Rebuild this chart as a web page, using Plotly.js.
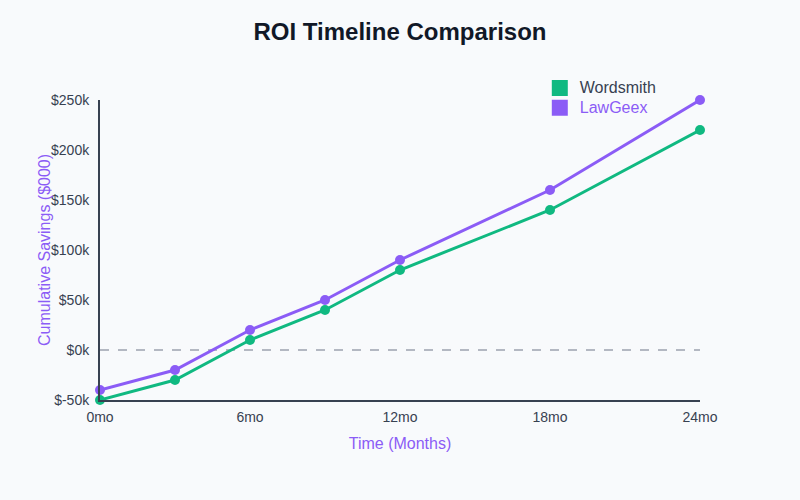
<!DOCTYPE html>
<html>
<head>
<meta charset="utf-8">
<script src="https://cdn.plot.ly/plotly-3.0.1.min.js"></script>
<style>html,body{margin:0;padding:0;background:#f8fafc;}#chart{width:800px;height:500px;}</style>
</head>
<body>
<div id="chart"></div>
<script>
var months = [0, 3, 6, 9, 12, 18, 24];
var wordsmith = [-50, -30, 10, 40, 80, 140, 220];
var lawgeex = [-40, -20, 20, 50, 90, 160, 250];
var xTickVals = [0, 6, 12, 18, 24];
var xTickText = ['0mo', '6mo', '12mo', '18mo', '24mo'];
var yTickVals = [-50, 0, 50, 100, 150, 200, 250];
var yTickText = ['$-50k', '$0k', '$50k', '$100k', '$150k', '$200k', '$250k'];

var green = '#10b981', purple = '#8b5cf6';
var font = 'Liberation Sans, Arial, sans-serif';

var traces = [
  {x: months, y: wordsmith, mode: 'lines+markers', line: {color: green, width: 3}, marker: {color: green, size: 10}, showlegend: false, cliponaxis: false},
  {x: months, y: lawgeex, mode: 'lines+markers', line: {color: purple, width: 3}, marker: {color: purple, size: 10}, showlegend: false, cliponaxis: false},
  {x: [null], y: [null], mode: 'markers', name: '<span style="color:#374151;font-size:16px">Wordsmith</span>', marker: {color: green, symbol: 'square', size: 17}},
  {x: [null], y: [null], mode: 'markers', name: '<span style="color:#8b5cf6;font-size:16px">LawGeex</span>', marker: {color: purple, symbol: 'square', size: 17}}
];

var layout = {
  width: 800, height: 500,
  paper_bgcolor: '#f8fafc', plot_bgcolor: '#f8fafc',
  margin: {l: 100, r: 100, t: 100, b: 100},
  font: {family: font, color: '#374151', size: 14},
  title: {text: '<b>ROI Timeline Comparison</b>', font: {family: font, size: 24, color: '#111827'}, x: 0.5, xanchor: 'center', y: 1 - 32/500, yref: 'container', yanchor: 'middle'},
  xaxis: {range: [0, 24], tickvals: xTickVals, ticktext: xTickText, showgrid: false, zeroline: false, showline: true, linecolor: '#374151', linewidth: 2, ticks: '', ticklabelstandoff: 3, fixedrange: true,
    title: {text: 'Time (Months)', font: {size: 16, color: purple}, standoff: 14}},
  yaxis: {range: [-50, 250], tickvals: yTickVals, ticktext: yTickText, showgrid: false, zeroline: false, showline: true, linecolor: '#374151', linewidth: 2, ticks: '', ticklabelstandoff: 6, fixedrange: true},
  showlegend: true,
  legend: {x: 0.733, xanchor: 'left', y: 1.09, yanchor: 'top', bgcolor: 'rgba(0,0,0,0)', font: {size: 13}, itemwidth: 30, tracegroupgap: 0},
  shapes: [{type: 'line', xref: 'x', yref: 'y', x0: 0, x1: 24, y0: 0, y1: 0, line: {color: '#9ca3af', width: 1.5, dash: 'dash'}, layer: 'below'}],
  annotations: [{text: 'Cumulative Savings ($000)', xref: 'paper', yref: 'paper', x: -56/600, y: 0.5, textangle: -90, showarrow: false, xanchor: 'center', yanchor: 'middle', font: {size: 16, color: purple}}]
};

Plotly.newPlot('chart', traces, layout, {displayModeBar: false, staticPlot: true});
</script>
</body>
</html>
